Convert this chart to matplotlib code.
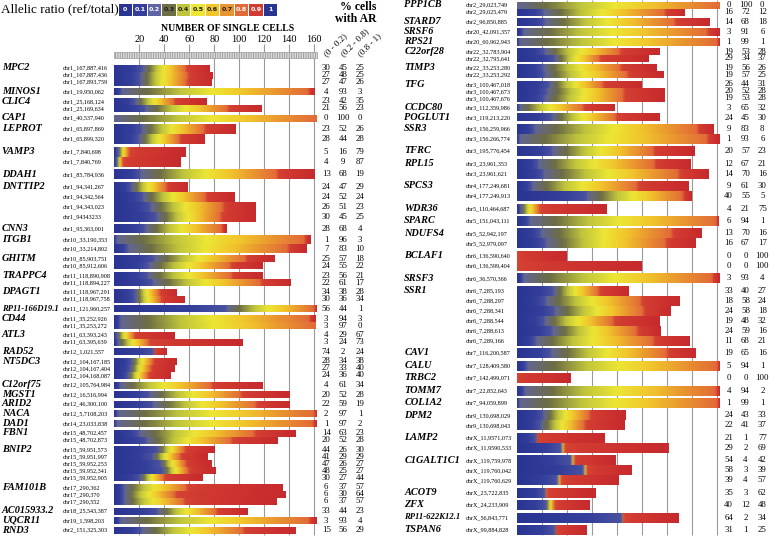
import numpy as np
import matplotlib
matplotlib.use('Agg')
import matplotlib.pyplot as plt
from matplotlib.colors import LinearSegmentedColormap

plt.rcParams['font.family'] = 'Liberation Serif'
plt.rcParams['hatch.linewidth'] = 0.7

# ---------------- data: left column ----------------
left_genes = ['MPC2', 'MINOS1', 'CLIC4', 'CAP1', 'LEPROT', 'VAMP3', 'DDAH1', 'DNTTIP2',
              'CNN3', 'ITGB1', 'GHITM', 'TRAPPC4', 'DPAGT1', 'RP11-166D19.1', 'CD44',
              'ATL3', 'RAD52', 'NT5DC3', 'C12orf75', 'MGST1', 'ARID2', 'NACA', 'DAD1',
              'FBN1', 'BNIP2', 'FAM101B', 'AC015933.2', 'UQCR11', 'RND3']
left_sizes = [3, 1, 2, 1, 2, 2, 1, 4, 1, 2, 2, 2, 2, 1, 2, 2, 1, 3, 1, 1, 1, 1, 1, 2, 5, 3, 1, 1, 1]
left_snps = ['chr1_167,887,416', 'chr1_167,887,436', 'chr1_167,893,759',
             'chr1_19,950,062',
             'chr1_25,168,124', 'chr1_25,169,634',
             'chr1_40,537,940',
             'chr1_65,897,869', 'chr1_65,899,320',
             'chr1_7,840,698', 'chr1_7,840,769',
             'chr1_85,784,936',
             'chr1_94,341,267', 'chr1_94,342,564', 'chr1_94,343,023', 'chr1_94343233',
             'chr1_95,363,001',
             'chr10_33,190,353', 'chr10_33,214,802',
             'chr10_85,903,751', 'chr10_85,912,606',
             'chr11_118,890,908', 'chr11_118,894,227',
             'chr11_118,967,291', 'chr11_118,967,758',
             'chr11_121,960,257',
             'chr11_35,252,926', 'chr11_35,253,272',
             'chr11_63,393,243', 'chr11_63,395,639',
             'chr12_1,021,557',
             'chr12_104,167,185', 'chr12_104,167,404', 'chr12_104,168,087',
             'chr12_105,764,984',
             'chr12_16,516,994',
             'chr12_46,300,100',
             'chr12_5,7108,203',
             'chr14_23,033,838',
             'chr15_48,702,457', 'chr15_48,702,873',
             'chr15_59,951,573', 'chr15_59,951,997', 'chr15_59,952,253', 'chr15_59,952,341', 'chr15_59,952,905',
             'chr17_290,362', 'chr17_290,370', 'chr17_290,552',
             'chr18_25,543,387',
             'chr19_1,598,203',
             'chr2_151,325,303']
left_cells = [76, 79, 78, 160, 74, 118, 162, 97, 72, 57, 53, 160, 59, 96, 113, 113, 90,
              157, 154, 128, 119, 119, 141, 50, 56, 162, 161, 161, 48, 103, 42, 50, 48, 45,
              119, 140, 140, 162, 162, 145, 131, 80, 75, 78, 81, 71, 135, 137, 130, 107, 162, 145]
left_low = [30, 27, 27, 4, 23, 21, 0, 23, 28, 5, 4, 13, 24, 24, 26, 30, 28, 1, 7, 25, 24, 23, 22,
            34, 30, 56, 3, 3, 4, 3, 74, 28, 27, 24, 4, 20, 22, 2, 1, 14, 20, 44, 41, 47, 48, 30,
            6, 6, 6, 33, 3, 15]
left_mid = [45, 48, 47, 93, 42, 56, 100, 52, 44, 16, 9, 68, 47, 52, 51, 45, 68, 96, 83, 57, 55,
            56, 61, 38, 36, 44, 94, 97, 29, 24, 2, 34, 33, 36, 61, 52, 59, 97, 97, 63, 52, 26, 29,
            26, 25, 27, 37, 30, 37, 44, 93, 56]
left_high = [25, 25, 26, 3, 35, 23, 0, 26, 28, 79, 87, 19, 29, 24, 23, 25, 4, 3, 10, 18, 22, 21,
             17, 28, 34, 1, 3, 0, 67, 73, 24, 38, 40, 40, 34, 28, 19, 1, 2, 23, 28, 30, 29, 27, 27,
             44, 57, 64, 57, 23, 4, 29]

# ---------------- data: right column ----------------
right_genes = ['PPP1CB', 'STARD7', 'SRSF6', 'RPS21', 'C22orf28', 'TIMP3', 'TFG', 'CCDC80',
               'POGLUT1', 'SSR3', 'TFRC', 'RPL15', 'SPCS3', 'WDR36', 'SPARC', 'NDUFS4',
               'BCLAF1', 'SRSF3', 'SSR1', 'CAV1', 'CALU', 'TRBC2', 'TOMM7', 'COL1A2', 'DPM2',
               'LAMP2', 'C1GALT1C1', 'ACOT9', 'ZFX', 'RP11-622K12.1', 'TSPAN6']
right_sizes = [2, 1, 1, 1, 2, 2, 3, 1, 1, 2, 1, 2, 2, 1, 1, 2, 2, 1, 6, 1, 1, 1, 1, 1, 2, 2, 3, 1, 1, 1, 1]
right_snps = ['chr2_29,023,749', 'chr2_29,025,479',
              'chr2_96,850,885',
              'chr20_42,091,357',
              'chr20_60,962,943',
              'chr22_32,783,904', 'chr22_32,795,641',
              'chr22_33,253,280', 'chr22_33,253,292',
              'chr3_100,467,018', 'chr3_100,467,673', 'chr3_100,467,676',
              'chr3_112,359,986',
              'chr3_119,213,220',
              'chr3_156,259,966', 'chr3_156,266,774',
              'chr3_195,776,454',
              'chr3_23,961,353', 'chr3_23,961,621',
              'chr4_177,249,681', 'chr4_177,249,913',
              'chr5_110,464,687',
              'chr5_151,043,111',
              'chr5_52,942,197', 'chr5_52,979,097',
              'chr6_136,590,640', 'chr6_136,599,404',
              'chr6_36,570,366',
              'chr6_7,285,193', 'chr6_7,288,297', 'chr6_7,288,341', 'chr6_7,288,544',
              'chr6_7,288,613', 'chr6_7,289,166',
              'chr7_116,200,587',
              'chr7_128,409,580',
              'chr7_142,499,071',
              'chr7_22,852,643',
              'chr7_94,059,899',
              'chr9_130,698,029', 'chr9_130,698,043',
              'chrX_11,9571,073', 'chrX_11,9590,533',
              'chrX_119,759,978', 'chrX_119,760,042', 'chrX_119,760,629',
              'chrX_23,722,835',
              'chrX_24,233,909',
              'chrX_56,843,771',
              'chrX_99,884,828']
right_cells = [162, 134, 154, 162, 162, 114, 105, 112, 117, 100, 118, 118, 78, 114, 157, 162,
               142, 139, 153, 137, 140, 72, 161, 148, 143, 40, 100, 162, 89, 130, 123, 114, 115,
               138, 143, 162, 43, 162, 162, 87, 86, 70, 121, 79, 92, 81, 63, 58, 129, 56]
right_low = [0, 16, 14, 3, 1, 19, 29, 19, 19, 26, 20, 19, 3, 24, 9, 1, 20, 12, 14, 9, 40, 4, 6,
             13, 16, 0, 0, 3, 33, 18, 24, 19, 24, 11, 19, 5, 0, 4, 1, 24, 22, 21, 29, 54, 58, 39,
             35, 40, 64, 31]
right_mid = [100, 72, 68, 91, 99, 53, 34, 56, 57, 44, 52, 53, 65, 45, 83, 93, 57, 67, 70, 61,
             55, 21, 94, 70, 67, 0, 0, 93, 40, 58, 58, 48, 59, 68, 65, 94, 0, 94, 99, 43, 41, 1,
             2, 4, 3, 4, 3, 12, 2, 1]
right_high = [0, 12, 18, 6, 1, 28, 37, 26, 25, 31, 28, 28, 32, 30, 8, 6, 23, 21, 16, 30, 5, 75,
              1, 16, 17, 100, 100, 4, 27, 24, 18, 32, 16, 21, 16, 1, 100, 2, 1, 33, 37, 77, 69,
              42, 39, 57, 62, 48, 34, 25]

ar_ticks = [0, 0.1, 0.2, 0.3, 0.4, 0.5, 0.6, 0.7, 0.8, 0.9, 1]
ar_tick_labels = ['0', '0.1', '0.2', '0.3', '0.4', '0.5', '0.6', '0.7', '0.8', '0.9', '1']
cell_ticks = [20, 40, 60, 80, 100, 120, 140, 160]
col_headers = ['(0 - 0.2)', '(0.2 - 0.8)', '(0.8 - 1)']

# ---------------- style / layout ----------------
ar_colors = ['#2a3593', '#343f9b', '#5f64a4', '#6d6d44', '#bfc43c', '#ece634',
             '#f1c52c', '#e9962f', '#e26a38', '#d13b31', '#c72a2d']
cmap = LinearSegmentedColormap.from_list('ar', list(zip(ar_ticks, ar_colors)))

PX = 1.25                      # pixels per cell
NAME_X, CHR_X = -90, -41
COL_X = [169.5, 183, 196.5]
left_row_h = [7, 7, 7, 7, 10, 10, 10, 10, 8.5, 8.5] + [7] * 19
right_row_h = [7, 7.5, 7.5, 7.5, 7, 7, 7, 7, 7.5] + [10] * 22


def bar_rgb(n, lo, md, hi, per_cell=4, blur=9):
    tot = lo + md + hi
    k1 = int(round(n * lo / tot))
    k3 = int(round(n * hi / tot))
    k2 = max(n - k1 - k3, 0)
    ar = np.concatenate([np.linspace(0.0, 0.15, k1),
                         np.linspace(0.22, 0.8, k2),
                         np.linspace(0.88, 1.0, k3)])
    rgb = cmap(np.repeat(ar, per_cell))[:, :3]
    pad = blur // 2
    p = np.pad(rgb, ((pad, pad), (0, 0)), mode='edge')
    ker = np.ones(blur) / blur
    sm = np.stack([np.convolve(p[:, c], ker, mode='valid') for c in range(3)], axis=1)
    return sm[None, :, :]


def draw_panel(ax, genes, sizes, snps, cells, low, mid, high, row_h, top, gap, grid_top):
    ax.vlines(cell_ticks, grid_top, 535, color='#9a9a9a', lw=0.8, zorder=1)
    y = top
    r = 0
    for g, name in enumerate(genes):
        h = row_h[g]
        fs = 6.2 if len(name) > 10 else 7.4
        ax.text(NAME_X, y + h / 2 - 0.3, name, ha='left', va='center', fontsize=fs,
                fontweight='bold', fontstyle='italic')
        for k in range(sizes[g]):
            y0 = y + k * h
            img = bar_rgb(cells[r], low[r], mid[r], high[r])
            ax.imshow(img, extent=(0, cells[r], y0 + h, y0), aspect='auto',
                      interpolation='bilinear', zorder=2)
            ax.text(CHR_X, y0 + h / 2, snps[r], ha='left', va='center', fontsize=4.4)
            for cx, v in zip(COL_X, (low[r], mid[r], high[r])):
                ax.text(cx, y0 + h / 2, str(v), ha='center', va='center', fontsize=6.3)
            r += 1
        y += sizes[g] * h + gap


fig = plt.figure(figsize=(7.69, 5.39), dpi=100)

axL = fig.add_axes([0, 0, 385 / 769, 1])
axR = fig.add_axes([385 / 769, 0, 384 / 769, 1])

draw_panel(axL, left_genes, left_sizes, left_snps, left_cells, left_low, left_mid,
           left_high, left_row_h, 64.7, 2.63, 44)
draw_panel(axR, right_genes, right_sizes, right_snps, right_cells, right_low, right_mid,
           right_high, right_row_h, 1.7, 2.45, 0)

# header of left column
axL.barh(55, 162, height=6.6, left=0, color='#dcdcdc', edgecolor='#9c9c9c',
         hatch='|||||||', lw=0.5, zorder=1.5)
for t in cell_ticks:
    axL.text(t, 40, str(t), ha='center', va='center', fontsize=7.5)
axL.text(90.6, 28.5, 'NUMBER OF SINGLE CELLS', ha='center', va='center',
         fontsize=7, fontweight='bold')
axL.text(-91, 9, 'Allelic ratio (ref/total)', ha='left', va='center', fontsize=9.5)
axL.text(195, 6.5, '% cells', ha='center', va='center', fontsize=8.5, fontweight='bold')
axL.text(193, 18.5, 'with AR', ha='center', va='center', fontsize=8.5, fontweight='bold')
for cx, lab in zip(COL_X, col_headers):
    axL.text(cx - 0.5, 55, lab, rotation=45, rotation_mode='anchor', ha='left',
             va='center', fontsize=6.5)

for ax, x0 in ((axL, 114.3), (axR, 516.7 - 385)):
    w = 385 if ax is axL else 384
    ax.set_xlim(-x0 / PX, (w - x0) / PX)
    ax.set_ylim(539, 0)
    ax.axis('off')

# colour key
axK = fig.add_axes([118 / 769, 1 - 15.5 / 539, 160 / 769, 11.5 / 539])
axK.bar(range(len(ar_ticks)), 1, width=0.92, color=[cmap(v) for v in ar_ticks])
for i, lab in enumerate(ar_tick_labels):
    tc = 'white' if ar_ticks[i] <= 0.2 or ar_ticks[i] >= 0.8 else '#202020'
    axK.text(i, 0.5, lab, ha='center', va='center', fontsize=4.6, color=tc,
             fontweight='bold', family='DejaVu Sans')
axK.set_xlim(-0.5, len(ar_ticks) - 0.5)
axK.set_ylim(0, 1)
axK.axis('off')

fig.savefig('out.png', dpi=100)
